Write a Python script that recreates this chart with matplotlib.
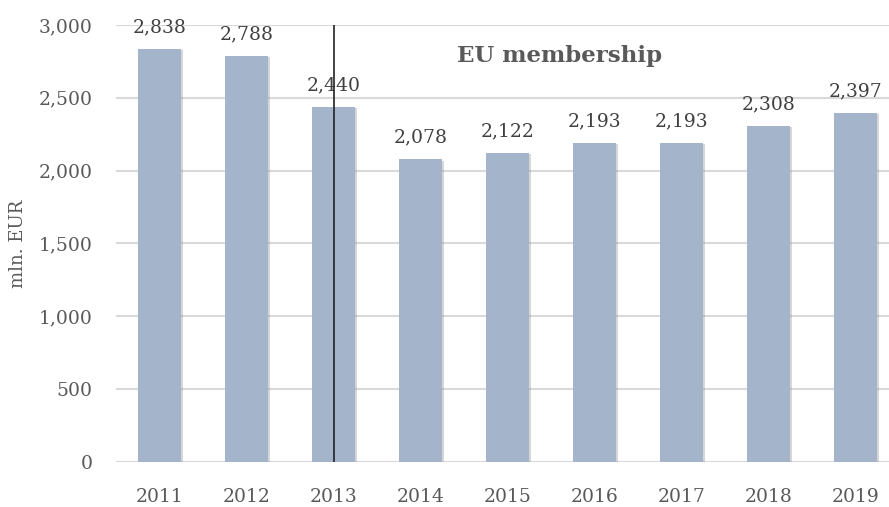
import matplotlib
matplotlib.use("Agg")
import matplotlib.pyplot as plt
import matplotlib.patheffects as pe

years = ["2011", "2012", "2013", "2014", "2015", "2016", "2017", "2018", "2019"]
values = [2838, 2788, 2440, 2078, 2122, 2193, 2193, 2308, 2397]
y_ticks = [0, 500, 1000, 1500, 2000, 2500, 3000]
marker_year = "2013"

plt.rcParams["font.family"] = ["DejaVu Serif"]

fig = plt.figure(figsize=(8.89, 5.07), dpi=100)
ax = fig.add_axes([0.1305, 0.0888, 0.881, 0.862])

x = list(range(len(years)))
bars = ax.bar(x, values, width=0.5, color="#A4B4CA", zorder=3)
for b in bars:
    b.set_path_effects([pe.SimplePatchShadow(offset=(1, -1), shadow_rgbFace="#8a8a8a", alpha=0.35), pe.Normal()])

for xi, v in zip(x, values):
    ax.annotate(f"{v:,}", (xi, v), xytext=(0, 9), textcoords="offset points",
                ha="center", va="bottom", fontsize=13.5, color="#404040",
                clip_on=False, zorder=5)

ax.set_xlim(-0.5, len(years) - 0.5)
ax.set_ylim(0, 3000)
ax.set_yticks(y_ticks)
ax.set_yticklabels([f"{t:,}" for t in y_ticks])
ax.set_xticks(x)
ax.set_xticklabels(years)
ax.tick_params(axis="y", length=0, pad=17, labelsize=13.5, labelcolor="#595959")
ax.tick_params(axis="x", length=0, pad=19, labelsize=13.5, labelcolor="#595959")
ax.grid(axis="y", color="#D9D9D9", linewidth=1.5, zorder=0)
for s in ax.spines.values():
    s.set_visible(False)

ax.set_ylabel("mln. EUR", fontsize=13, color="#595959", labelpad=8)

mi = years.index(marker_year)
ax.vlines(mi, 0, 3000, color="#222222", linewidth=1.2, zorder=6)

ax.text(4.6, 2790, "EU membership", ha="center", va="center",
        fontsize=16.5, fontweight="bold", color="#595959", zorder=6)

fig.savefig("out.png", dpi=100)
